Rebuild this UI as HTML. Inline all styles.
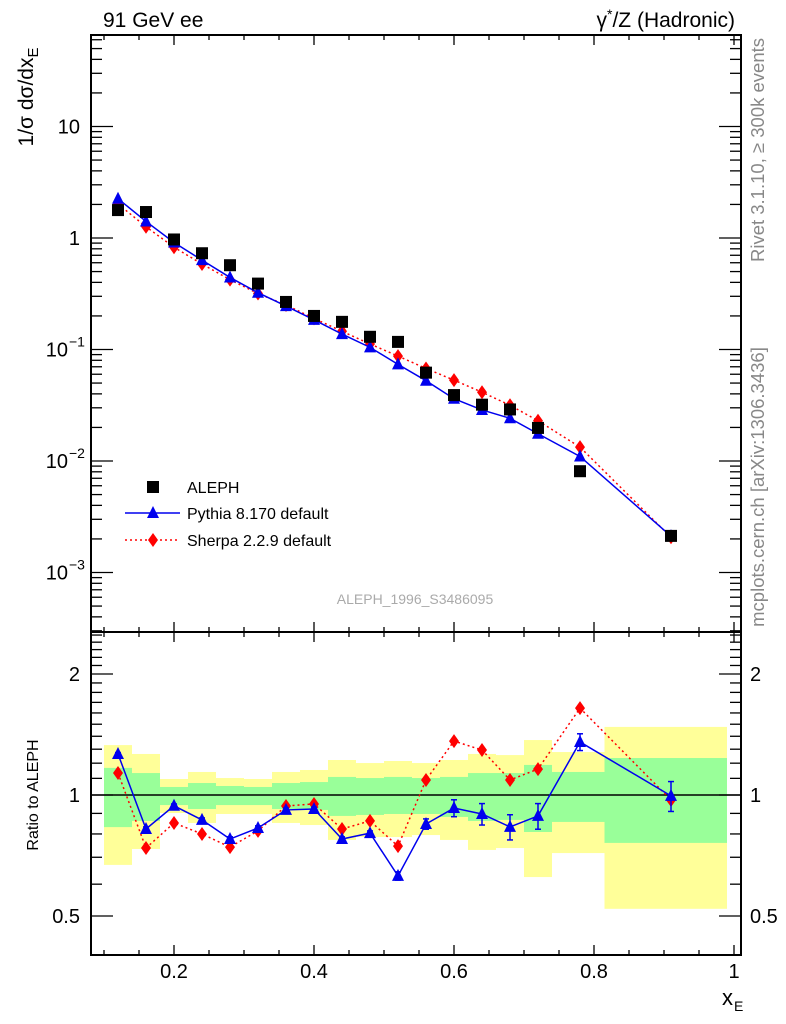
<!DOCTYPE html>
<html><head><meta charset="utf-8">
<style>
body{margin:0;background:#fff;}
svg{display:block;font-family:"Liberation Sans",sans-serif;}
</style></head>
<body>
<svg id="chart" width="786" height="1024" viewBox="0 0 786 1024" xmlns="http://www.w3.org/2000/svg"></svg>
<script>
const xVals = [0.12,0.16,0.20,0.24,0.28,0.32,0.36,0.40,0.44,0.48,0.52,0.56,0.60,0.64,0.68,0.72,0.78,0.91];
const alephVals = [1.78,1.71,0.97,0.73,0.57,0.39,0.267,0.20,0.177,0.13,0.117,0.062,0.039,0.032,0.029,0.0198,0.0081,0.00213];
const pythiaRatio = [1.265,0.823,0.94,0.867,0.777,0.828,0.918,0.923,0.777,0.804,0.629,0.847,0.928,0.897,0.833,0.887,1.355,0.995];
const pythiaErr = [0.01,0.01,0.01,0.01,0.01,0.01,0.01,0.01,0.01,0.01,0.015,0.025,0.045,0.055,0.06,0.065,0.065,0.085];
const sherpaRatio = [1.134,0.738,0.852,0.8,0.742,0.814,0.939,0.95,0.823,0.862,0.746,1.09,1.362,1.294,1.09,1.16,1.645,0.972];
const binEdges = [0.10,0.14,0.18,0.22,0.26,0.30,0.34,0.38,0.42,0.46,0.50,0.54,0.58,0.62,0.66,0.70,0.74,0.815,0.99];
const yellowHi = [1.331,1.265,1.096,1.141,1.102,1.096,1.141,1.154,1.222,1.201,1.215,1.201,1.222,1.265,1.257,1.370,1.279,1.477];
const yellowLo = [0.670,0.734,0.902,0.852,0.897,0.897,0.852,0.842,0.773,0.786,0.786,0.795,0.773,0.730,0.738,0.625,0.717,0.521];
const greenHi = [1.168,1.134,1.047,1.071,1.053,1.047,1.071,1.077,1.109,1.102,1.109,1.102,1.109,1.134,1.134,1.188,1.141,1.236];
const greenLo = [0.832,0.862,0.944,0.923,0.944,0.944,0.923,0.918,0.887,0.892,0.897,0.897,0.882,0.862,0.867,0.809,0.857,0.760];
const xTicks = [0.2,0.4,0.6,0.8,1];
const xTickLabels = ["0.2","0.4","0.6","0.8","1"];

const NS="http://www.w3.org/2000/svg";
const svg=document.getElementById('chart');
const L=91,R=741,T=35,MID=632,B=955;
const X=x=>34+700*x;
const YT=v=>238-111.5*Math.log10(v);
const YR=r=>795-121*Math.log2(r);
function mk(tag,attrs,parent){const e=document.createElementNS(NS,tag);for(const k in attrs)e.setAttribute(k,attrs[k]);(parent||svg).appendChild(e);return e;}
function txt(s,attrs,parent){const e=mk('text',attrs,parent);e.textContent=s;return e;}

const gB=mk('g',{});


for(let i=0;i<yellowHi.length;i++){
  const x0=X(binEdges[i]),x1=X(binEdges[i+1]);
  const y=mk('rect',{x:x0,y:YR(yellowHi[i]),width:x1-x0,height:YR(yellowLo[i])-YR(yellowHi[i]),fill:'#ffff99'},gB);
  
  
  const g=mk('rect',{x:x0,y:YR(greenHi[i]),width:x1-x0,height:YR(greenLo[i])-YR(greenHi[i]),fill:'#99ff99'},gB);
  
  
}
const one=mk('line',{x1:L,x2:R,y1:YR(1),y2:YR(1),stroke:'#000','stroke-width':1.5});



const f1=mk('rect',{x:L,y:T,width:R-L,height:MID-T,fill:'none',stroke:'#000','stroke-width':2});


const f2=mk('rect',{x:L,y:MID,width:R-L,height:B-MID,fill:'none',stroke:'#000','stroke-width':2});



const gx=mk('g',{stroke:'#000','stroke-width':1.3});


for(let k=2;k<=20;k++){const x=k*0.05;const px=X(x);if(px<L||px>R)continue;const major=(k%4===0);const len=major?10:5;
  [T,MID].forEach(y0=>mk('line',{x1:px,x2:px,y1:y0,y2:y0+len},gx));
  [MID,B].forEach(y0=>mk('line',{x1:px,x2:px,y1:y0,y2:y0-len},gx));
}
xTicks.forEach((v,i)=>{const t=txt(xTickLabels[i],{x:X(v),y:978,'font-size':20,'text-anchor':'middle'});
  
  });
const xt=txt('x',{x:722,y:1005,'font-size':22});


txt('E',{x:734,y:1011,'font-size':14},svg);

const gy=mk('g',{stroke:'#000','stroke-width':1.3});


for(let e=-4;e<=1;e++){for(let m=1;m<=9;m++){const v=m*Math.pow(10,e);const py=YT(v);if(py<T||py>MID)continue;const len=m===1?22:11;
  mk('line',{x1:L,x2:L+len,y1:py,y2:py},gy);mk('line',{x1:R,x2:R-len,y1:py,y2:py},gy);}}
const yLab=[[10,'10',null],[1,'1',null],[0.1,'10','−1'],[0.01,'10','−2'],[0.001,'10','−3']];
yLab.forEach(([v,b,ex])=>{const py=YT(v);
  const t=txt(b,{x:ex?68:80,y:py+7,'font-size':20,'text-anchor':'end'});
  
  
  if(ex)txt(ex,{x:69,y:py-3,'font-size':14});});
const rMaj=[0.5,1,2];
for(let r=0.4;r<=2.6;r+=0.1){const py=YR(r);if(py<MID||py>B)continue;
  const maj=rMaj.some(m=>Math.abs(m-r)<1e-6);const len=maj?22:11;
  mk('line',{x1:L,x2:L+len,y1:py,y2:py},gy);mk('line',{x1:R,x2:R-len,y1:py,y2:py},gy);}
[[2,'2'],[1,'1'],[0.5,'0.5']].forEach(([v,s])=>{
  const a=txt(s,{x:80,y:YR(v)+7,'font-size':20,'text-anchor':'end'});
  
  
  const b=txt(s,{x:750,y:YR(v)+7,'font-size':20});
  
  });

const yt=mk('text',{transform:'translate(33,97) rotate(-90)','font-size':21,'text-anchor':'middle'});


yt.innerHTML='1/σ dσ/dx<tspan font-size="15" dy="5">E</tspan>';
const rt=txt('Ratio to ALEPH',{transform:'translate(38,795) rotate(-90)','font-size':16,'text-anchor':'middle'});


const h1=txt('91 GeV ee',{x:103,y:27,'font-size':21});


const h2=mk('text',{x:735,y:27,'font-size':21,'text-anchor':'end'});


h2.innerHTML='γ<tspan font-size="14" dy="-8">*</tspan><tspan dy="8">/Z (Hadronic)</tspan>';
const s1=txt('Rivet 3.1.10, ≥ 300k events',{transform:'translate(764,150) rotate(-90)','font-size':18.5,'text-anchor':'middle',fill:'#888'});


const s2=txt('mcplots.cern.ch [arXiv:1306.3436]',{transform:'translate(764,487) rotate(-90)','font-size':18.5,'text-anchor':'middle',fill:'#888'});


const an=txt('ALEPH_1996_S3486095',{x:415,y:604,'font-size':14,'text-anchor':'middle',fill:'#aaa'});



function ptsTop(rat){return xVals.map((x,i)=>X(x)+','+YT(alephVals[i]*rat[i])).join(' ');}
function ptsR(rat){return xVals.map((x,i)=>X(x)+','+YR(rat[i])).join(' ');}
function tri(cx,cy,p){return mk('polygon',{points:`${cx},${cy-7} ${cx-6},${cy+5} ${cx+6},${cy+5}`,fill:'#0000ee'},p);}
function dia(cx,cy,p){return mk('polygon',{points:`${cx},${cy-7} ${cx-5},${cy} ${cx},${cy+7} ${cx+5},${cy}`,fill:'#ff0000'},p);}

const gS=mk('g',{});


const gP=mk('g',{});


mk('polyline',{points:ptsTop(sherpaRatio),fill:'none',stroke:'#ff0000','stroke-width':1.5,'stroke-dasharray':'2,3'},gS);
mk('polyline',{points:ptsR(sherpaRatio),fill:'none',stroke:'#ff0000','stroke-width':1.5,'stroke-dasharray':'2,3'},gS);
mk('polyline',{points:ptsTop(pythiaRatio),fill:'none',stroke:'#0000ee','stroke-width':1.5},gP);
mk('polyline',{points:ptsR(pythiaRatio),fill:'none',stroke:'#0000ee','stroke-width':1.5},gP);

const gA=mk('g',{});


xVals.forEach((x,i)=>{
  const m=mk('rect',{x:X(x)-6,y:YT(alephVals[i])-6,width:12,height:12,fill:'#000'},gA);
  
  
});
xVals.forEach((x,i)=>{
  const cx=X(x);
  const p=tri(cx,YT(alephVals[i]*pythiaRatio[i]),gP);
  
  
  const yh=YR(pythiaRatio[i]+pythiaErr[i]),yl=YR(pythiaRatio[i]-pythiaErr[i]);
  mk('line',{x1:cx,x2:cx,y1:yh,y2:yl,stroke:'#0000ee','stroke-width':1.5},gP);
  mk('line',{x1:cx-3,x2:cx+3,y1:yh,y2:yh,stroke:'#0000ee','stroke-width':1.5},gP);
  mk('line',{x1:cx-3,x2:cx+3,y1:yl,y2:yl,stroke:'#0000ee','stroke-width':1.5},gP);
  const q=tri(cx,YR(pythiaRatio[i]),gP);
  
  
  const s=dia(cx,YT(alephVals[i]*sherpaRatio[i]),gS);
  
  
  const s2=dia(cx,YR(sherpaRatio[i]),gS);
  
  
});

const lg=mk('g',{});


mk('rect',{x:147,y:481,width:12,height:12,fill:'#000'},lg);
txt('ALEPH',{x:187,y:493,'font-size':16},lg);
mk('line',{x1:125,x2:180,y1:513,y2:513,stroke:'#0000ee','stroke-width':1.5},lg);
tri(153,513,lg);
txt('Pythia 8.170 default',{x:187,y:519,'font-size':16},lg);
mk('line',{x1:125,x2:180,y1:540,y2:540,stroke:'#ff0000','stroke-width':1.5,'stroke-dasharray':'2,3'},lg);
dia(153,540,lg);
txt('Sherpa 2.2.9 default',{x:187,y:546,'font-size':16},lg);
</script>
</body></html>
